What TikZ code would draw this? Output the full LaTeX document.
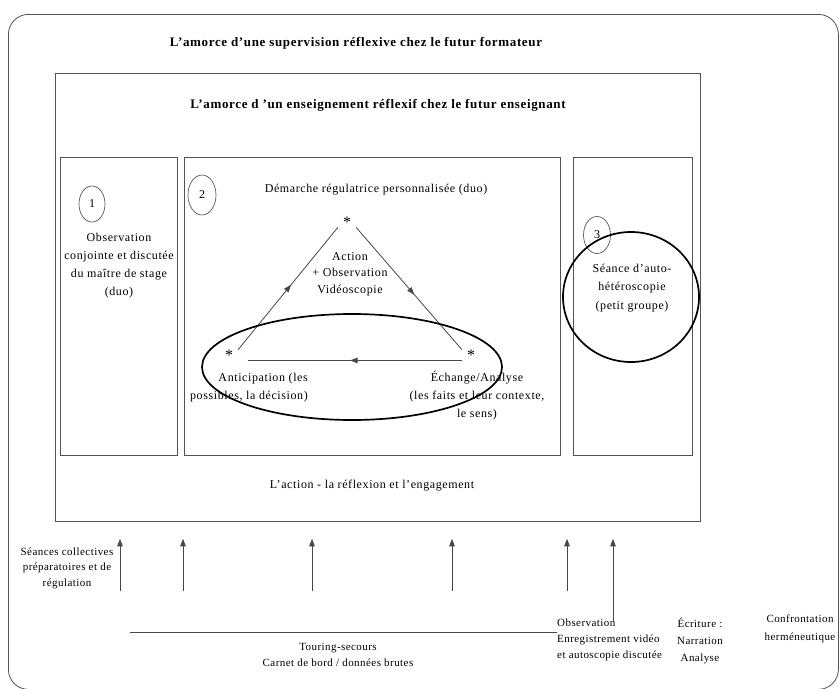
\documentclass[tikz,border=0pt]{standalone}
\usepackage{fontspec}
\setmainfont{Liberation Serif}
\newfontfamily\bodyfont{Liberation Serif}[LetterSpace=5]
\newfontfamily\lowfont{Liberation Serif}[LetterSpace=4]
\usetikzlibrary{arrows.meta,decorations.markings,shapes.geometric}

\begin{document}
\begin{tikzpicture}[x=1pt,y=-1pt,
  frame/.style={draw=black!68,line width=0.8pt,inner sep=0pt},
  txt/.style={font=\bodyfont\fontsize{12}{18}\selectfont,align=center,inner sep=0pt},
  lowtxt/.style={font=\lowfont\fontsize{11}{16}\selectfont,align=center,inner sep=0pt},
  ttl/.style={font=\bodyfont\fontsize{13}{15}\selectfont\bfseries,inner sep=0pt},
  numring/.style={ellipse,draw=black!65,line width=0.7pt,inner sep=0pt,
    font=\bodyfont\fontsize{12}{14}\selectfont},
  ring/.style={ellipse,draw=black,line width=1.7pt,inner sep=0pt},
  starnode/.style={inner sep=0pt,minimum width=18pt,minimum height=10pt,
    font=\bodyfont\fontsize{16}{18}\selectfont},
  link/.style={draw=black!72,line width=0.8pt},
  tipend/.style={-{Triangle[length=7.5pt,width=5.5pt]}},
  midarrow/.style={postaction={decorate},decoration={markings,
    mark=at position #1 with {\arrow{Triangle[length=7.5pt,width=5.5pt]}}}}
]
\useasboundingbox (0,0) rectangle (840,688);
\fill[white] (0,0) rectangle (840,688);

% outer frame and nested boxes
\node[frame,rounded corners=20pt,anchor=north west,minimum width=830pt,minimum height=675pt] (outer) at (8,14) {};
\node[frame,anchor=north west,minimum width=645pt,minimum height=448pt] (inner) at (55,73) {};
\node[frame,anchor=north west,minimum width=117pt,minimum height=298pt] (boxL) at (60,157) {};
\node[frame,anchor=north west,minimum width=376pt,minimum height=298pt] (boxM) at (184,157) {};
\node[frame,anchor=north west,minimum width=119pt,minimum height=298pt] (boxR) at (573,157) {};

% headings
\node[ttl] (head1) at (356,43) {L’amorce d’une supervision réflexive chez le futur formateur};
\node[ttl] (head2) at (378,105) {L’amorce d ’un enseignement réflexif chez le futur enseignant};

% left column
\node[numring,minimum width=26pt,minimum height=36pt] (n1) at (92,204) {1};
\node[txt] (obs) at (119,266) {Observation\\conjointe et discutée\\du maître de stage\\(duo)};

% middle column
\node[numring,minimum width=28pt,minimum height=40pt] (n2) at (202,195) {2};
\node[txt] (demarche) at (376,190) {Démarche régulatrice personnalisée (duo)};
\node[starnode] (sT) at (347,222) {*};
\node[starnode] (sL) at (229,355) {*};
\node[starnode] (sR) at (471,355) {*};
\node[txt,font=\bodyfont\fontsize{12}{16.5}\selectfont] (action) at (350,274) {Action\\+ Observation\\Vidéoscopie};
\node[txt,align=right,anchor=east] (antic) at (308,388) {Anticipation (les\\possibles, la décision)};
\node[txt] (echange) at (477,396) {Échange/Analyse\\(les faits et leur contexte,\\le sens)};

\draw[link,midarrow=0.53] (sL.north east) -- (sT.south west);
\draw[link,midarrow=0.55] (sT.south east) -- (sR.north west);
\draw[link,midarrow=0.5,shorten >=10pt] (sR.south west) -- (sL.south east);

\node[ring,minimum width=300pt,minimum height=106pt] (loop) at (352,367) {};

% right column
\node[numring,minimum width=27pt,minimum height=37pt] (n3) at (597,235) {3};
\node[txt,font=\bodyfont\fontsize{12}{18.5}\selectfont] (seance) at (632,288) {Séance d’auto-\\hétéroscopie\\(petit groupe)};
\node[ring,minimum width=136pt,minimum height=130pt] (group) at (631,297) {};

\node[txt] (engage) at (372,486) {L’action - la réflexion et l’engagement};

% supporting devices below the frame
\node[lowtxt,font=\lowfont\fontsize{11}{15.5}\selectfont] (collect) at (67,568) {Séances collectives\\préparatoires et de\\régulation};
\node[lowtxt] (touring) at (338,655) {Touring-secours\\Carnet de bord / données brutes};
\node[lowtxt,align=left,anchor=west] (video) at (557,640) {Observation\\Enregistrement vidéo\\et autoscopie discutée};
\node[lowtxt,font=\lowfont\fontsize{11}{17}\selectfont] (ecrit) at (700,641) {Écriture :\\Narration\\Analyse};
\node[lowtxt,font=\lowfont\fontsize{11}{18}\selectfont] (herm) at (800,629) {Confrontation\\herméneutique};

\coordinate (u1) at (120,591);
\coordinate (u2) at (183,591);
\coordinate (u3) at (312,591);
\coordinate (u4) at (452,591);
\coordinate (u5) at (567,591);
\coordinate (u6) at (613,621);
\foreach \u in {u1,u2,u3,u4,u5,u6}
  \draw[link,tipend,shorten >=17pt] (\u) -- (\u |- inner.south);

\coordinate (railL) at (130,632);
\draw[link] (railL) -- (railL -| video.west);
\end{tikzpicture}
\end{document}
